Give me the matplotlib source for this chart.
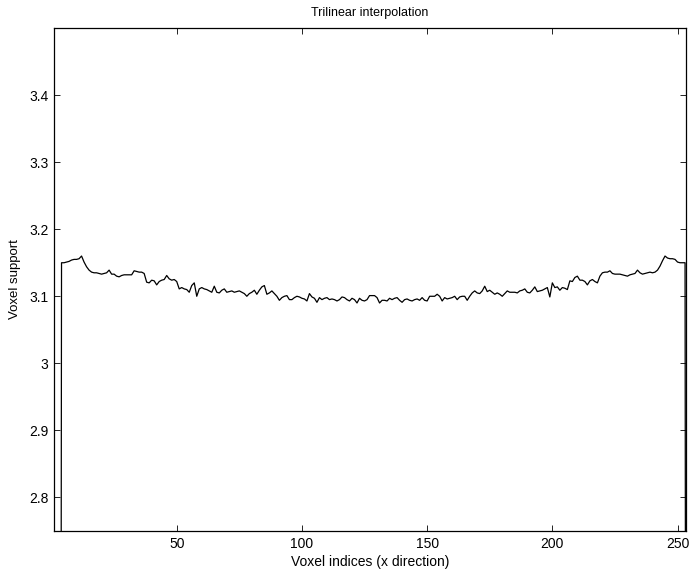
import numpy as np
import matplotlib.pyplot as plt
from matplotlib.ticker import FormatStrFormatter

# Voxel support along the x direction (trilinear interpolation)
voxel_index = np.arange(1, 255)
support = [
    0.0, 0.0, 0.0,
    3.150, 3.150, 3.151, 3.152, 3.154, 3.155, 3.155, 3.156, 3.160,
    3.151, 3.144, 3.139, 3.136, 3.135, 3.135, 3.134, 3.133, 3.134, 3.135,
    3.139, 3.133, 3.133, 3.130, 3.129, 3.131, 3.132, 3.132, 3.132, 3.132,
    3.138, 3.137, 3.136, 3.136, 3.134, 3.121, 3.120, 3.124, 3.123, 3.117,
    3.122, 3.124, 3.125, 3.131, 3.126, 3.124, 3.125, 3.122, 3.111, 3.113,
    3.111, 3.110, 3.106, 3.116, 3.120, 3.100, 3.111, 3.113, 3.111, 3.110,
    3.108, 3.106, 3.115, 3.106, 3.105, 3.109, 3.111, 3.106, 3.107, 3.108,
    3.106, 3.107, 3.108, 3.106, 3.104, 3.100, 3.104, 3.106, 3.109, 3.103,
    3.109, 3.114, 3.116, 3.103, 3.105, 3.108, 3.104, 3.100, 3.094, 3.098,
    3.100, 3.101, 3.095, 3.095, 3.098, 3.100, 3.099, 3.097, 3.096, 3.093, 3.104,
    3.099, 3.097, 3.091, 3.098, 3.095, 3.097, 3.098, 3.095, 3.096, 3.095,
    3.093, 3.095, 3.099, 3.098, 3.095, 3.093, 3.097, 3.095, 3.090, 3.097,
    3.094, 3.093, 3.095, 3.101, 3.101, 3.101, 3.098, 3.090, 3.094, 3.094,
    3.093, 3.097, 3.095, 3.097, 3.098, 3.094, 3.091, 3.095, 3.096, 3.094,
    3.093, 3.095, 3.096, 3.094, 3.098, 3.094, 3.093, 3.100, 3.100,
    3.100, 3.103, 3.100, 3.093, 3.098, 3.096, 3.097, 3.098, 3.100, 3.095,
    3.099, 3.100, 3.100, 3.094, 3.100, 3.105, 3.108, 3.105, 3.104, 3.108,
    3.115, 3.107, 3.109, 3.106, 3.103, 3.105, 3.103, 3.100, 3.104, 3.108,
    3.106, 3.106, 3.106, 3.105, 3.108, 3.109, 3.111, 3.106, 3.105, 3.109,
    3.114, 3.107, 3.108, 3.109, 3.111, 3.113, 3.099, 3.120, 3.113, 3.114,
    3.109, 3.113, 3.112, 3.110, 3.123, 3.122, 3.128, 3.130, 3.124, 3.124,
    3.122, 3.117, 3.123, 3.125, 3.122, 3.120, 3.130, 3.135, 3.136, 3.136,
    3.138, 3.134, 3.133, 3.133, 3.133, 3.132, 3.131, 3.130, 3.132, 3.133,
    3.134, 3.139, 3.135, 3.133, 3.134, 3.135, 3.136, 3.135, 3.136, 3.139,
    3.145, 3.153, 3.160, 3.157, 3.156, 3.156, 3.155, 3.151, 3.150, 3.150, 3.150,
    0.0,
]
x_ticks = [50, 100, 150, 200, 250]
y_ticks = [2.8, 2.9, 3.0, 3.1, 3.2, 3.3, 3.4]

plt.rcParams['font.family'] = ['Liberation Sans', 'DejaVu Sans']

fig = plt.figure(figsize=(6.89, 5.72), dpi=100)
ax = fig.add_axes([0.0784, 0.0717, 0.9166, 0.8793])

ax.plot(voxel_index, support, color='black', linewidth=0.9)

ax.set_xlim(1, 253.2)
ax.set_ylim(2.75, 3.5)
ax.set_xticks(x_ticks)
ax.set_yticks(y_ticks)
ax.yaxis.set_major_formatter(FormatStrFormatter('%g'))

ax.tick_params(direction='in', length=4.5, width=0.6, labelsize=10,
               top=True, right=True, pad=4)
for s in ax.spines.values():
    s.set_linewidth(0.9)

ax.set_title('Trilinear interpolation', fontsize=9, pad=9)
ax.set_xlabel('Voxel indices (x direction)', fontsize=10, labelpad=3)
ax.set_ylabel('Voxel support', fontsize=9.5, labelpad=6)

fig.savefig('out.png', dpi=100)
